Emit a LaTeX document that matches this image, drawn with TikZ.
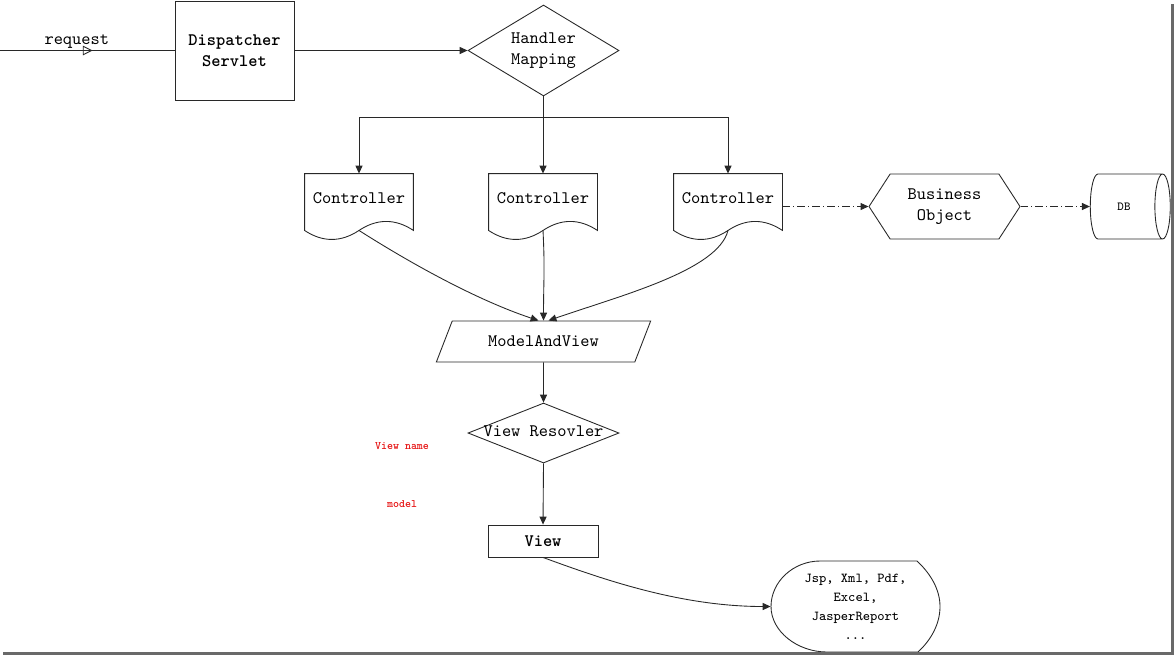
\documentclass[tikz,border=0pt]{standalone}
\usetikzlibrary{arrows.meta,shapes.geometric,shapes.symbols,decorations.markings,calc}
\definecolor{lineink}   {RGB}{40,40,40}
\definecolor{frameshade}{RGB}{105,105,105}
\definecolor{hintred}   {RGB}{230,20,20}
\newcommand{\docborder}[1]{%
  \draw[link] (#1.south) .. controls +(-18,12) and +(18,12) .. (#1.south west)
    -- (#1.north west) -- (#1.north east) -- (#1.south east)
    .. controls +(-18,-12) and +(18,-12) .. (#1.south);}

\begin{document}
\begin{tikzpicture}[
  x=0.02cm, y=-0.02cm, line width=0.5pt,
  every node/.style={font=\ttfamily},
  box/.style   ={draw=lineink,minimum width=2.38cm,minimum height=1.98cm,
                 font=\ttfamily\bfseries,align=center,inner sep=0pt},
  decide/.style={diamond,draw=lineink,inner sep=0pt,align=center},
  ctrl/.style  ={minimum width=2.16cm,minimum height=1.12cm,inner sep=0pt,
                 text depth=0.16cm},
  io/.style    ={trapezium,trapezium left angle=65,trapezium right angle=115,
                 trapezium stretches=true,draw=lineink,
                 minimum width=4.3cm,minimum height=0.82cm},
  bobj/.style  ={signal,signal to=west and east,signal pointer angle=114,
                 draw=lineink,minimum width=3.02cm,minimum height=1.3cm,
                 align=center,inner sep=0pt},
  store/.style ={cylinder,draw=lineink,aspect=0.8,
                 minimum width=1.3cm,minimum height=1.6cm,
                 font=\ttfamily\fontsize{7}{8}\selectfont},
  hint/.style  ={text=hintred,font=\ttfamily\bfseries\fontsize{6.5}{7}\selectfont},
  link/.style  ={draw=lineink},
  arr/.style   ={draw=lineink,-{Triangle[length=4.5pt,width=4pt]}},
  dashdot/.style={arr,dash pattern=on 4.5pt off 1.7pt on 0.6pt off 1.7pt},
]
\useasboundingbox (0,0) rectangle (1175,657);

%% ── Top row: servlet and handler mapping ─────────────────────────────────────
\node[box] (disp) at (234.5,50.5) {Dispatcher\\Servlet};
\node[decide,minimum width=3.02cm,minimum height=1.82cm,shape aspect=1.66]
  (hm) at (543.5,50.5) {Handler\\Mapping};

%% ── Controllers and the back end ─────────────────────────────────────────────
\node[ctrl] (ctrlA) at (359,202) {Controller};
\node[ctrl] (ctrlB) at (543,202) {Controller};
\node[ctrl] (ctrlC) at (728,202) {Controller};
\foreach \c in {ctrlA,ctrlB,ctrlC} \docborder{\c};
\node[bobj]  (bo) at (944.5,206.5) {Business\\Object};
\node[store] (db) at (1124,206.5)  {DB};

%% ── View resolution ──────────────────────────────────────────────────────────
\node[io] (mav) at (543.5,341.5) {ModelAndView};
\node[decide,minimum width=3.02cm,minimum height=1.2cm,shape aspect=2.5,
      text height=0.15cm,text depth=0pt] (vr) at (543.5,433) {View Resovler};
\node[draw=lineink,minimum width=2.2cm,minimum height=0.64cm,
      font=\ttfamily\bfseries,inner sep=0pt] (view) at (543,541) {View};
\node[hint] (vname)  at (402,446) {View name};
\node[hint] (vmodel) at (402,504) {model};

%% ── Rendered output ──────────────────────────────────────────────────────────
\node[align=center,minimum width=3.38cm,minimum height=1.82cm,inner sep=0pt,
      font=\ttfamily\fontsize{7.8}{10.8}\selectfont]
  (rend) at (855.5,606.5) {Jsp, Xml, Pdf,\\Excel,\\JasperReport\\...};
\begin{scope}[shift={(rend.center)}]
  \draw[link] (-35.5,-45.5) -- (61.5,-45.5)
    .. controls (75,-33) and (84.5,-17) .. (84.5,0)
    .. controls (84.5,17) and (76,33) .. (62.5,45.5) -- (-28.5,45.5)
    .. controls (-58,45.5) and (-84.5,25) .. (-84.5,0)
    .. controls (-84.5,-25) and (-62,-45.5) .. (-35.5,-45.5) -- cycle;
\end{scope}

%% ── Connections ──────────────────────────────────────────────────────────────
\coordinate (reqin) at (0,50.5);
\draw[link,postaction={decorate,decoration={markings,
      mark=at position 0.53 with {\arrow{Triangle[open,length=5.5pt,width=5.5pt]}}}}]
  (reqin) -- node[pos=0.44,above,inner sep=1pt]{request} (disp.west);
\draw[arr] (disp.east) -- (hm.west);

\coordinate (fork) at (543.5,117);
\draw[link] (hm.south) -- (fork);
\draw[link] (ctrlA.north |- fork) -- (ctrlC.north |- fork);
\foreach \c in {ctrlA,ctrlB,ctrlC}
  \draw[arr] (\c.north |- fork) -- (\c.north);

\draw[dashdot] (ctrlC.east |- bo.west) -- (bo.west);
\draw[dashdot] (bo.east) -- (db.west);

\draw[arr] (ctrlA.south) .. controls +(55,35) and +(-60,-20) .. ([xshift=-0.1cm]mav.north);
\draw[arr] (ctrlB.south) .. controls +(2,40) and +(0,-40) .. (mav.north);
\draw[arr] (ctrlC.south) .. controls +(-10,40) and +(72,-25) .. ([xshift=0.1cm]mav.north);

\draw[arr] (mav.south) -- (vr.north);
\draw[arr] (vr.south) -- (view.north);
\draw[arr] (view.south) .. controls +(60,22) and +(-90,0) .. (rend.west);

%% ── Screenshot frame shadow ──────────────────────────────────────────────────
\draw[frameshade,line width=0.06cm] (1172,4) -- (1172,653.5) -- (3,653.5);

\end{tikzpicture}
\end{document}
